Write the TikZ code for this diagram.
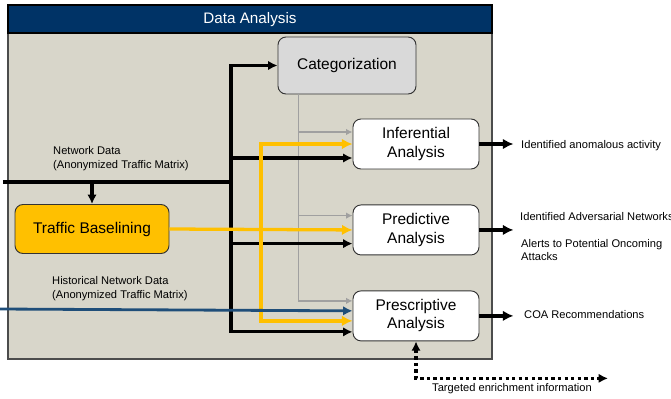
\documentclass[tikz,border=0pt]{standalone}
\usepackage{fontspec}
\setmainfont{Liberation Sans}
\usetikzlibrary{positioning,calc,arrows.meta}
\definecolor{navy}{RGB}{0,51,102}
\definecolor{panelgray}{RGB}{216,214,202}
\definecolor{amber}{RGB}{255,192,0}
\definecolor{linegray}{RGB}{160,160,160}
\definecolor{histblue}{RGB}{31,78,121}
\colorlet{catgray}{gray!30}

\begin{document}
\begin{tikzpicture}[box/.style={draw=black!80, line width=0.8pt, rounded corners=0.24cm, align=center, inner sep=0pt, font=\fontsize{13.2}{15.5}\selectfont},
analysis/.style={box, fill=white, minimum width=3.78cm, minimum height=1.5cm},
lbl/.style={inner sep=0pt, align=left, font=\fontsize{9.5}{11.6}\selectfont},
blk/.style={line width=2.6pt, -{Latex[length=8pt,width=8pt]}},
ylw/.style={amber, line width=2.8pt, -{Latex[length=9pt,width=9pt]}},
gry/.style={linegray, line width=1.5pt, -{Latex[length=5.5pt,width=5.5pt]}},
blu/.style={histblue, line width=2.4pt, -{Latex[length=8pt,width=8pt]}},
outp/.style={line width=2.8pt, -{Latex[length=9pt,width=9pt]}},
enrich/.style={line width=2.8pt, dash pattern=on 2.8pt off 2.8pt, {Latex[length=8pt,width=8pt]}-{Latex[length=8pt,width=8pt]}}]

\useasboundingbox (0,0) rectangle (20.13,-11.94);

% PANEL

\draw[draw=black!70, line width=1.2pt, fill=panelgray] (0.24,-0.15) rectangle (14.76,-10.77);
\draw[line width=1.2pt, fill=navy] (0.24,-0.15) rectangle (14.76,-0.99);
\node[text=white, font=\fontsize{13}{15}\selectfont] (title) at (7.5,-0.6) {Data Analysis};

% BOXES

\node[box, fill=catgray, minimum width=4.14cm, minimum height=1.71cm] (cat) at (10.41,-1.965) {Categorization};

\node[analysis] (inf) at (12.48,-4.32) {Inferential\\Analysis};

\node[analysis, below=1.05cm of inf] (prd) {Predictive\\Analysis};

\node[analysis, below=1.05cm of prd] (pre) {Prescriptive\\Analysis};

\node[box, fill=amber, minimum width=4.62cm, minimum height=1.47cm] (base) at (2.76,-6.87) {Traffic Baselining};

% INPUT LABELS

\node[lbl, anchor=west] (netlbl) at (1.59,-4.755) {Network Data\\(Anonymized Traffic Matrix)};

\node[lbl, anchor=west] (histlbl) at (1.56,-8.655) {Historical Network Data\\(Anonymized Traffic Matrix)};

% OUTPUT LABELS

\node[lbl, anchor=west] (infout) at (15.63,-4.38) {Identified anomalous activity};

\node[lbl, anchor=west] (prdout) at (15.6,-6.51) {Identified Adversarial Networks};

\node[lbl, anchor=west] (alerts) at (15.63,-7.5) {Alerts to Potential Oncoming\\Attacks};

\node[lbl, anchor=west] (preout) at (15.72,-9.45) {COA Recommendations};

% ENTRY POINTS

\coordinate (netin) at (0.09,-5.46);
\coordinate (busjoin) at (6.93,-5.46);
\coordinate (histin) at (0,-9.27);
\coordinate (gtop) at ($(cat.south west)+(0.63,0)$);
\coordinate (ybus) at (7.83,-6.87);

\coordinate (inf-g) at ($(inf.west)+(0,0.36)$);
\coordinate (inf-b) at ($(inf.west)+(0,-0.42)$);
\coordinate (prd-g) at ($(prd.west)+(0,0.43)$);
\coordinate (prd-b) at ($(prd.west)+(0,-0.41)$);
\coordinate (pre-g) at ($(pre.west)+(0,0.45)$);
\coordinate (pre-h) at ($(pre.west)+(0,0.15)$);
\coordinate (pre-y) at ($(pre.west)+(0,-0.15)$);
\coordinate (pre-b) at ($(pre.west)+(0,-0.48)$);

% CONNECTORS

\draw[gry] (gtop) |- (inf-g);
\draw[gry] (gtop) |- (prd-g);
\draw[gry] (gtop) |- (pre-g);

\draw[blk, -] (netin) -- (busjoin);
\draw[blk] (base.north |- netin) -- (base.north);
\draw[blk] (busjoin) |- (cat.west);
\draw[blk] (busjoin) |- (inf-b);
\draw[blk] (busjoin) |- (prd-b);
\draw[blk] (busjoin) |- (pre-b);

\draw[ylw] (base.east) -- (prd.west);
\draw[ylw] (ybus) |- (inf.west);
\draw[ylw] (ybus) |- (pre-y);

\draw[blu] (histin) -- (pre-h);

% OUTPUTS

\draw[outp] (inf.east) -- ($(inf.east)+(1.02,0)$);
\draw[outp] (prd.east) -- ($(prd.east)+(1.02,0)$);
\draw[outp] (pre.east) -- ($(pre.east)+(1.02,0)$);

\coordinate (enr) at ($(pre.south)+(0,-1.11)$);
\draw[enrich] (pre.south) -- (enr) -- ($(enr)+(5.76,0)$);
\node[lbl, anchor=north] (enrlbl) at ($(enr)+(2.88,-0.15)$) {Targeted enrichment information};

\end{tikzpicture}
\end{document}
